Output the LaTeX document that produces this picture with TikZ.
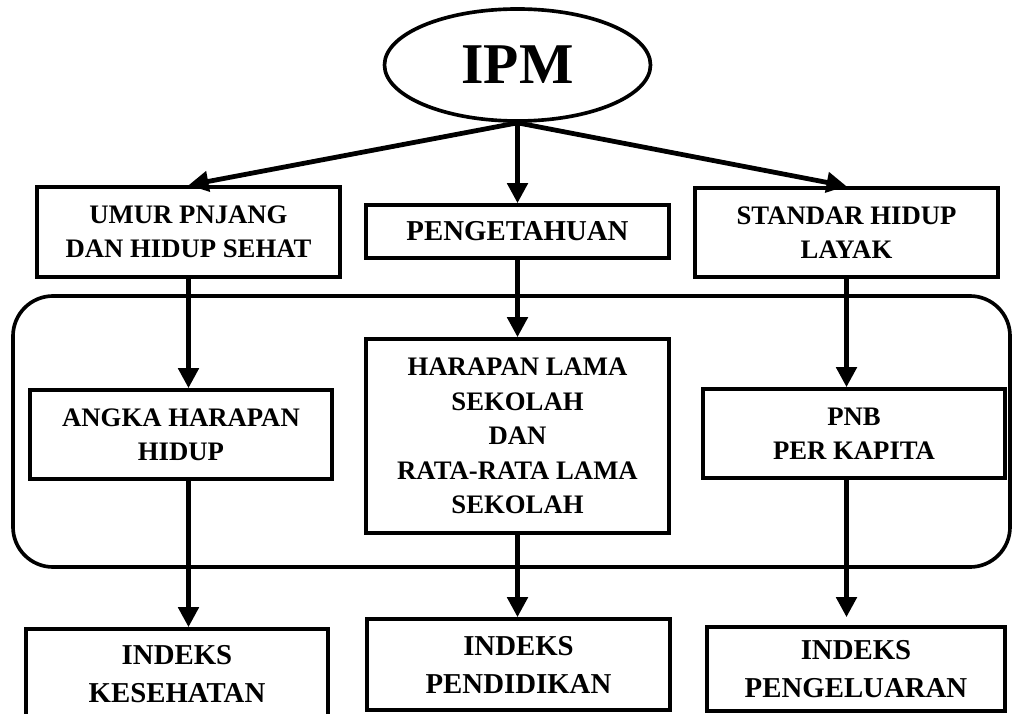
\documentclass[tikz,border=0pt]{standalone}
\usepackage{fontspec}
\setmainfont{Liberation Serif}
\usetikzlibrary{shapes.geometric,arrows.meta}
\tikzset{
  kotak/.style={draw, line width=2.6pt, rectangle, align=center, inner sep=0pt,
    font=\fontsize{19}{24.5}\selectfont\bfseries},
  kotakbesar/.style={kotak, font=\fontsize{20.5}{27}\selectfont\bfseries},
  panah/.style={line width=3.4pt, -{Triangle[length=0.5cm,width=0.5cm]}}
}
\begin{document}
\begin{tikzpicture}[x=1cm,y=1cm]
      \clip (0,0) rectangle (25.325,17.825);
      % lingkaran IPM
      \node[draw, ellipse, line width=2.6pt, minimum width=6.65cm, minimum height=2.8cm, inner sep=0pt,
        font=\fontsize{41}{41}\selectfont\bfseries] (ipm) at (12.9375,16.2) {IPM};
      % tiga dimensi
      \node[kotak, minimum width=7.575cm, minimum height=2.25cm] (umur) at (4.7125,12.025) {UMUR PNJANG\\DAN HIDUP SEHAT};
      \node[kotakbesar, minimum width=7.575cm, minimum height=1.325cm] (ilmu) at (12.9375,12.0375) {PENGETAHUAN};
      \node[kotak, minimum width=7.575cm, minimum height=2.225cm] (standar) at (21.1625,12.0125) {STANDAR HIDUP\\LAYAK};
      % kotak indikator
      \draw[line width=2.6pt, rounded corners=1cm] (0.325,3.65) rectangle (25.25,10.425);
      \node[kotak, minimum width=7.55cm, minimum height=2.225cm] (angka) at (4.525,6.9625) {ANGKA HARAPAN\\HIDUP};
      \node[kotak, minimum width=7.575cm, minimum height=4.85cm] (sekolah) at (12.9375,6.925) {HARAPAN LAMA\\SEKOLAH\\DAN\\RATA-RATA LAMA\\SEKOLAH};
      \node[kotak, minimum width=7.55cm, minimum height=2.225cm] (pnb) at (21.35,6.9875) {PNB\\PER KAPITA};
      % indeks
      \node[kotakbesar, minimum width=7.55cm, minimum height=2.25cm] (kesehatan) at (4.425,0.975) {INDEKS\\KESEHATAN};
      \node[kotakbesar, minimum width=7.575cm, minimum height=2.275cm] (pendidikan) at (12.9625,1.2125) {INDEKS\\PENDIDIKAN};
      \node[kotakbesar, minimum width=7.45cm, minimum height=2.1cm] (pengeluaran) at (21.4,1.1) {INDEKS\\PENGELUARAN};
      % panah
      \draw[panah] (ipm.south) -- (umur.north);
      \draw[panah] (ipm.south) -- (ilmu.north);
      \draw[panah] (ipm.south) -- (standar.north);
      \draw[panah] (umur.south) -- (umur.south |- angka.north);
      \draw[panah] (umur.south |- angka.south) -- (umur.south |- kesehatan.north);
      \draw[panah] (ilmu.south) -- (ilmu.south |- sekolah.north);
      \draw[panah] (sekolah.south) -- (sekolah.south |- pendidikan.north);
      \draw[panah] (standar.south) -- (standar.south |- pnb.north);
      \draw[panah, shorten >=0.2cm] (standar.south |- pnb.south) -- (standar.south |- pengeluaran.north);
\end{tikzpicture}
\end{document}
